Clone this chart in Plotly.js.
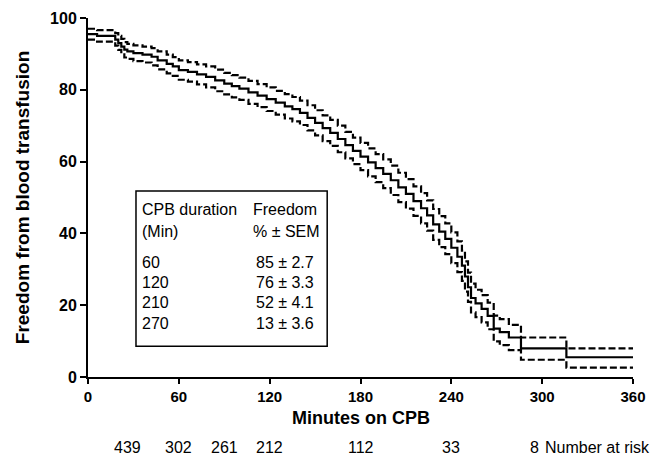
<!DOCTYPE html>
<html>
<head>
<meta charset="utf-8">
<script src="https://cdn.plot.ly/plotly-3.0.1.min.js"></script>
<style>html,body{margin:0;padding:0;background:#fff;}#chart{width:664px;height:466px;}</style>
</head>
<body>
<div id="chart"></div>
<script>
// Kaplan-Meier step times (minutes on CPB)
const times = [0, 6, 18, 20, 22, 24, 26, 30, 36, 42, 46, 52, 56, 60, 66, 72, 78, 84, 90, 95, 100, 106, 112, 118, 124, 130, 135, 140, 145, 150, 155, 160, 165, 170, 175, 180, 185, 190, 195, 200, 205, 210, 215, 220, 224, 228, 232, 236, 240, 244, 247, 249, 251, 253, 256, 260, 264, 268, 272, 278, 286, 316, 360];
// Freedom from blood transfusion (%)
const freedom = [95.5, 95, 94, 93, 92, 91.2, 90.7, 90.2, 89.8, 89.2, 88.2, 87.2, 86.5, 85.5, 85, 84.3, 83.6, 82.6, 81.7, 81, 80.3, 79.3, 78.4, 77.4, 76.4, 75.4, 74.6, 73.6, 72.2, 70.8, 69.3, 68, 66.3, 64.6, 63, 61.4, 59.8, 58.2, 56.6, 54.8, 52.8, 51, 49, 47, 45, 42.5, 40.5, 38.5, 36, 33.5, 31, 28, 25, 22, 20.5, 19, 17, 13.5, 12.5, 11, 8, 5.5, 5.5];
// Upper SEM bound (%)
const upperBound = [97, 96.6, 95.8, 95, 94.2, 93.3, 92.8, 92.4, 92, 91.6, 90.7, 89.8, 89.1, 88.2, 87.7, 87.1, 86.5, 85.6, 84.7, 84.1, 83.4, 82.5, 81.6, 80.7, 79.7, 78.8, 78, 77, 75.7, 74.3, 72.9, 71.6, 70, 68.3, 66.7, 65.2, 63.7, 62.1, 60.6, 58.9, 56.9, 55.1, 53.1, 51.2, 49.2, 46.8, 44.8, 42.8, 40.3, 37.8, 35.2, 32.2, 29.1, 26, 24.3, 22.8, 20.7, 17.1, 16.1, 14.5, 11, 8, 8];
// Lower SEM bound (%)
const lowerBound = [94, 93.4, 92.3, 91.1, 89.9, 89, 88.6, 88, 87.6, 86.8, 85.7, 84.6, 83.9, 82.8, 82.3, 81.5, 80.7, 79.6, 78.7, 77.9, 77.2, 76.1, 75.2, 74.1, 73.1, 72, 71.2, 70.2, 68.7, 67.3, 65.7, 64.4, 62.6, 60.9, 59.3, 57.6, 55.9, 54.3, 52.6, 50.7, 48.7, 46.9, 44.9, 42.8, 40.8, 38.2, 36.2, 34.2, 31.7, 29.2, 26.8, 23.8, 20.9, 18, 16.7, 15.2, 13.3, 9.9, 8.9, 7.5, 4.8, 2.6, 2.6];

// Axis ticks
const xTicks = [0, 60, 120, 180, 240, 300, 360];
const yTicks = [0, 20, 40, 60, 80, 100];

// Number at risk
const atRiskTimes = [26, 60, 90, 120, 180, 240, 295];
const atRiskCounts = [439, 302, 261, 212, 112, 33, 8];

// Inset table
const tableHeaderLeft = ["CPB duration", "(Min)"];
const tableHeaderRight = ["Freedom", "% \u00b1 SEM"];
const tableDurations = ["60", "120", "210", "270"];
const tableFreedom = ["85 \u00b1 2.7", "76 \u00b1 3.3", "52 \u00b1 4.1", "13 \u00b1 3.6"];

const FONT = "Arial, 'Liberation Sans', sans-serif";

const traces = [
  {x: times, y: upperBound, mode: 'lines', line: {shape: 'hv', color: '#000', width: 2.2, dash: '7px,3px'}, hoverinfo: 'skip'},
  {x: times, y: lowerBound, mode: 'lines', line: {shape: 'hv', color: '#000', width: 2.2, dash: '7px,3px'}, hoverinfo: 'skip'},
  {x: times, y: freedom, mode: 'lines', line: {shape: 'hv', color: '#000', width: 2.2}, hoverinfo: 'skip'}
];

const annotations = [];
// x-axis title placed close under the tick labels
annotations.push({x: 0.5, y: -0.113, xref: 'paper', yref: 'paper', text: '<b>Minutes on CPB</b>',
  showarrow: false, xanchor: 'center', yanchor: 'middle', font: {family: FONT, size: 18, color: '#000'}});
atRiskTimes.forEach((t, i) => {
  annotations.push({x: t, y: -0.196, xref: 'x', yref: 'paper', text: String(atRiskCounts[i]),
    showarrow: false, xanchor: 'center', yanchor: 'middle', font: {family: FONT, size: 16, color: '#000'}});
});
annotations.push({x: 300.5, y: -0.196, xref: 'x', yref: 'paper', text: 'Number at risk',
  showarrow: false, xanchor: 'left', yanchor: 'middle', font: {family: FONT, size: 16, color: '#000'}});

const headerY = [46.6, 40.4];
const rowY = [31.9, 26.3, 20.7, 14.9];
const colLeft = 34.2, colRight = 107.5;
tableHeaderLeft.forEach((t, i) => annotations.push({x: colLeft, y: headerY[i], xref: 'x', yref: 'y', text: t, showarrow: false,
  xanchor: 'left', yanchor: 'middle', font: {family: FONT, size: 16, color: '#000'}}));
tableHeaderRight.forEach((t, i) => annotations.push({x: colRight, y: headerY[i], xref: 'x', yref: 'y', text: t, showarrow: false,
  xanchor: 'left', yanchor: 'middle', font: {family: FONT, size: 16, color: '#000'}}));
tableDurations.forEach((t, i) => annotations.push({x: colLeft, y: rowY[i], xref: 'x', yref: 'y', text: t, showarrow: false,
  xanchor: 'left', yanchor: 'middle', font: {family: FONT, size: 16, color: '#000'}}));
tableFreedom.forEach((t, i) => annotations.push({x: colRight + 2, y: rowY[i], xref: 'x', yref: 'y', text: t, showarrow: false,
  xanchor: 'left', yanchor: 'middle', font: {family: FONT, size: 16, color: '#000'}}));

const layout = {
  width: 664, height: 466,
  margin: {l: 88, r: 31, t: 18, b: 89},
  paper_bgcolor: '#fff', plot_bgcolor: '#fff',
  showlegend: false,
  font: {family: FONT, color: '#000'},
  xaxis: {
    range: [0, 360], tickvals: xTicks, ticktext: xTicks.map(String),
    showgrid: false, zeroline: false, showline: true, linecolor: '#000', linewidth: 2,
    ticks: 'outside', ticklen: 5, tickwidth: 2, tickcolor: '#000',
    tickfont: {family: FONT, size: 15, color: '#000', weight: 'bold'}
  },
  yaxis: {
    range: [0, 100], tickvals: yTicks, ticktext: yTicks.map(String),
    showgrid: false, zeroline: false, showline: true, linecolor: '#000', linewidth: 2,
    ticks: 'outside', ticklen: 6, tickwidth: 2, tickcolor: '#000',
    tickfont: {family: FONT, size: 16, color: '#000', weight: 'bold'},
    title: {text: '<b>Freedom from blood transfusion</b>', font: {family: FONT, size: 19, color: '#000'}, standoff: 15}
  },
  shapes: [{type: 'rect', xref: 'x', yref: 'y', x0: 31.7, x1: 158, y0: 8.6, y1: 51.8,
    line: {color: '#000', width: 1.5}, fillcolor: 'rgba(0,0,0,0)'}],
  annotations: annotations
};

Plotly.newPlot('chart', traces, layout, {staticPlot: true, displayModeBar: false});
</script>
</body>
</html>
